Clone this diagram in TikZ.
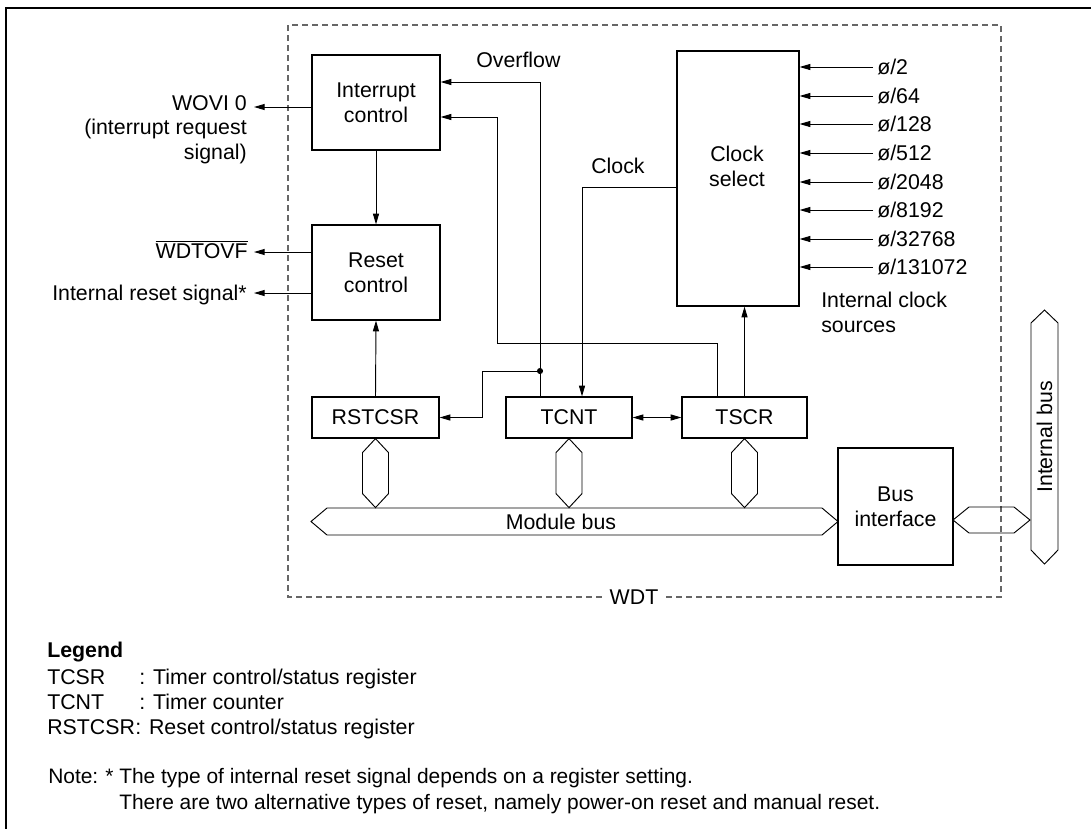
\documentclass[tikz,border=0pt]{standalone}
\usepackage{fontspec}
\setmainfont{Liberation Sans}
\usetikzlibrary{arrows.meta}
\newcommand\mydiafont{\fontsize{16}{18.75}\selectfont}
\newcommand\mynotefont{\fontsize{15.7}{18.75}\selectfont}
\tikzset{
  box/.style={draw, line width=0.9pt, inner sep=0pt, align=center},
  conn/.style={line width=0.7pt},
  arr/.style={conn, -{Triangle[length=8pt,width=4.5pt]}},
  darr/.style={conn, {Triangle[length=8pt,width=4.5pt]}-{Triangle[length=8pt,width=4.5pt]}},
  lbl/.style={inner sep=0pt},
  bus/.style={draw, line width=0.7pt},
  wdtframe/.style={draw=black!60, line width=0.9pt, dash pattern=on 4.5pt off 3pt},
}
\begin{document}
\begin{tikzpicture}[x=0.75pt, y=-0.75pt, font=\mydiafont]
\useasboundingbox (0,0) rectangle (1091,829);
% outer frame (top and left)
\draw[line width=0.9pt] (1091,8) -- (6,8) -- (6,829);
% WDT dashed frame
\draw[wdtframe] (288,25) rectangle (1001,597);
\node[lbl, fill=white, inner xsep=3pt, inner ysep=1pt] (wdtl) at (634,597) {WDT};

% blocks
\node[box, minimum width=96pt, minimum height=71.25pt] (ic) at (376,102.5) {Interrupt\\control};
\node[box, minimum width=96pt, minimum height=71.25pt] (rc) at (376,272.5) {Reset\\control};
\node[box, minimum width=95.25pt, minimum height=30.75pt] (rst) at (375.5,417.5) {RSTCSR};
\node[box, minimum width=94.5pt, minimum height=30.75pt] (tcnt) at (569,417.5) {TCNT};
\node[box, minimum width=93.75pt, minimum height=30.75pt] (tscr) at (744.5,417.5) {TSCR};
\node[box, minimum width=91.5pt, minimum height=191.25pt] (cs) at (738,178.5) {};
\node[lbl, align=center] (cst) at (737,166) {Clock\\select};
\node[box, minimum width=86.25pt, minimum height=87.75pt] (bi) at (895.5,506.5) {Bus\\interface};

% outputs on the left
\coordinate (woviend) at (254,107);
\coordinate (wdtend) at (254,252);
\coordinate (intend) at (254,293);
\draw[arr] (ic.west |- woviend) -- (woviend);
\draw[arr] (rc.west |- wdtend) -- (wdtend);
\draw[arr] (rc.west |- intend) -- (intend);
\node[lbl, anchor=base east] (wovi1) at (247,110) {WOVI 0};
\node[lbl, anchor=base east] (wovi2) at (247,134.5) {(interrupt request};
\node[lbl, anchor=base east] (wovi3) at (247,159) {signal)};
\node[lbl, anchor=base east] (wdtovf) at (248,258) {$\overline{\mbox{WDTOVF}}$};
\node[lbl, anchor=base east] (irs) at (247,300) {Internal reset signal*};

% vertical links
\draw[arr] (ic.south) -- (rc.north);
\draw[arr] (rst.north) -- (rc.south);

% overflow
\coordinate (ovf) at (540,82);
\coordinate (jn) at (540,371);
\coordinate (rk) at (482,371);
\draw[arr] (tcnt.north -| ovf) -- (ovf) -- (ic.east |- ovf);
\fill (jn) circle[radius=2.3pt];
\draw[arr] (jn) -- (rk) |- (rst.east);
\node[lbl, anchor=base west] (ovfl) at (476,67) {Overflow};

% TSCR to interrupt control
\coordinate (tk1) at (717,343);
\coordinate (tk2) at (497,343);
\coordinate (tk3) at (497,117);
\draw[arr] (tscr.north -| tk1) -- (tk1) -- (tk2) -- (tk3) -- (ic.east |- tk3);

% clock
\coordinate (ck) at (582,187);
\draw[arr] (cs.west |- ck) -- (ck) -- (tcnt.north -| ck);
\node[lbl, anchor=base west] (ckl) at (591,173) {Clock};
\draw[arr] (tscr.north) -- (cs.south -| tscr.north);
\draw[darr] (tcnt.east) -- (tscr.west);

% clock sources
\foreach \y/\t [count=\i] in {67/2, 96/64, 124/128, 153/512, 182/2048, 210/8192, 239/32768, 267/131072}{
  \coordinate (src\i) at (873,\y);
  \draw[arr] (src\i) -- (cs.east |- src\i);
  \node[lbl, anchor=base west] (srcl\i) at (877,\y+7) {ø/\t};
}
\node[lbl, anchor=base west] (ics1) at (821,307) {Internal clock};
\node[lbl, anchor=base west] (ics2) at (821,332) {sources};

% bus connectors
\foreach \n in {rst,tcnt,tscr}{
  \draw[bus] (\n.south) -- ++(13,14) -- ++(0,41) -- ++(-13,14) -- ++(-13,-14) -- ++(0,-41) -- cycle;
}
\draw[bus] (311,521.5) -- (327,508) -- (822,508) -- (838,521.5) -- (822,535) -- (327,535) -- cycle;
\node[lbl] (mbus) at (561,522) {Module bus};
\draw[bus] (953,520) -- (969,507) -- (1014,507) -- (1030,520) -- (1014,533) -- (969,533) -- cycle;
\draw[bus] (1044.5,310) -- (1058,323) -- (1058,550) -- (1044.5,564) -- (1031,550) -- (1031,323) -- cycle;
\node[lbl, rotate=90] (ibus) at (1044.5,437) {Internal bus};

% legend
\node[lbl, anchor=base west, font=\mydiafont\bfseries] (leg) at (47,657) {Legend};
\node[lbl, anchor=base west] (l1a) at (47,684) {TCSR};
\node[lbl, anchor=base west] (l1b) at (139,684) {: Timer control/status register};
\node[lbl, anchor=base west] (l2a) at (47,709) {TCNT};
\node[lbl, anchor=base west] (l2b) at (139,709) {: Timer counter};
\node[lbl, anchor=base west] (l3a) at (47,734) {RSTCSR};
\node[lbl, anchor=base west] (l3b) at (135,734) {: Reset control/status register};
\node[lbl, anchor=base west, font=\mynotefont] (n1a) at (48,783) {Note:};
\node[lbl, anchor=base west, font=\mynotefont] (n1s) at (105,783) {*};
\node[lbl, anchor=base west, font=\mynotefont] (n1b) at (119,783) {The type of internal reset signal depends on a register setting.};
\node[lbl, anchor=base west, font=\mynotefont] (n2) at (119,809) {There are two alternative types of reset, namely power-on reset and manual reset.};
\end{tikzpicture}
\end{document}
